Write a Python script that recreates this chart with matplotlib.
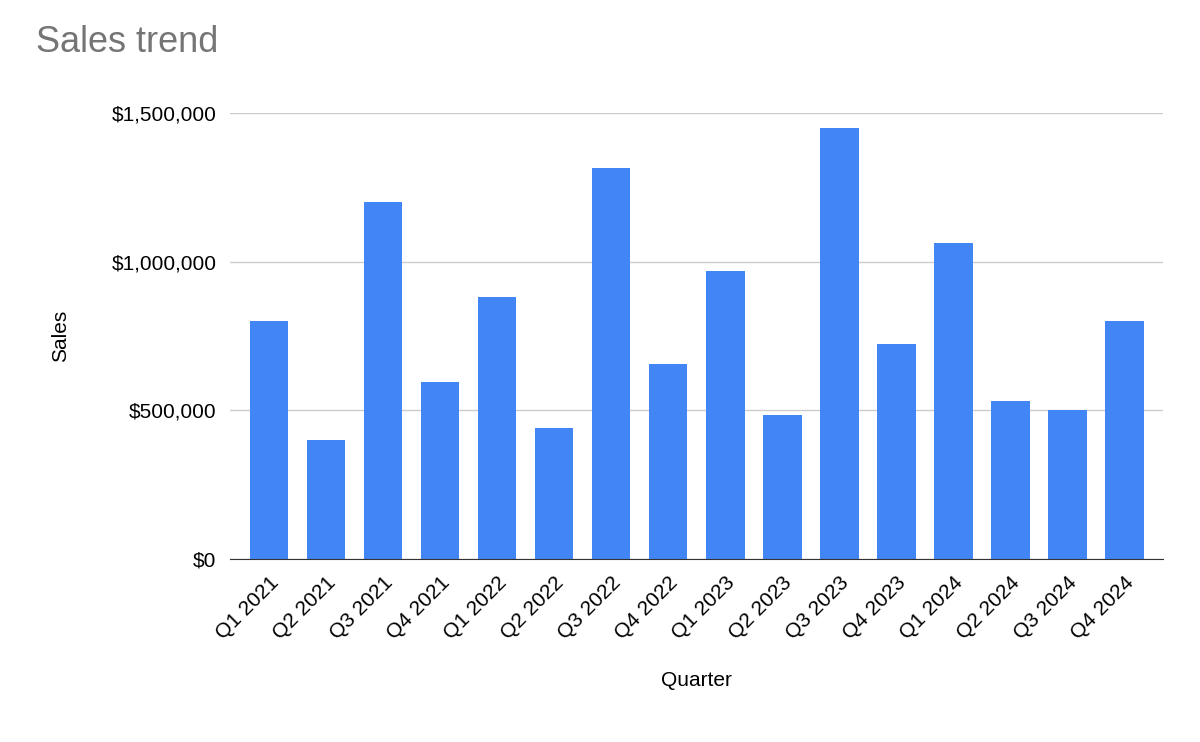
import matplotlib.pyplot as plt
from matplotlib.ticker import FuncFormatter

quarters = ["Q1 2021", "Q2 2021", "Q3 2021", "Q4 2021",
            "Q1 2022", "Q2 2022", "Q3 2022", "Q4 2022",
            "Q1 2023", "Q2 2023", "Q3 2023", "Q4 2023",
            "Q1 2024", "Q2 2024", "Q3 2024", "Q4 2024"]
sales = [800000, 400000, 1200000, 595000,
         880000, 440000, 1315000, 656000,
         968000, 484000, 1450000, 724000,
         1062000, 530000, 502000, 800000]

plt.rcParams['font.family'] = ['Arial', 'Liberation Sans', 'DejaVu Sans']

fig = plt.figure(figsize=(12, 7.42), dpi=100)
ax = fig.add_axes([0.192, 0.2466, 0.777, 0.601])

x = range(len(quarters))
ax.bar(x, sales, width=0.67, color="#4285f4", zorder=2)

ax.set_xlim(-0.68, len(quarters) - 0.33)
ax.set_ylim(0, 1500000)
ax.set_yticks([0, 500000, 1000000, 1500000])
ax.yaxis.set_major_formatter(FuncFormatter(lambda v, p: f"${v:,.0f}"))
ax.grid(axis="y", color="#cccccc", linewidth=1, zorder=0)
ax.set_xticks(list(x))
ax.set_xticklabels(quarters, rotation=45, ha="right", rotation_mode="anchor")
ax.tick_params(axis="both", length=0, labelsize=15, pad=10)

for s in ["top", "right", "left"]:
    ax.spines[s].set_visible(False)
ax.spines["bottom"].set_color("#333333")

ax.set_xlabel("Quarter", fontsize=15, labelpad=20)
ax.set_ylabel("Sales", fontsize=15, labelpad=30)
fig.text(0.03, 0.93, "Sales trend", fontsize=26, color="#757575")

fig.savefig("out.png", dpi=100)
